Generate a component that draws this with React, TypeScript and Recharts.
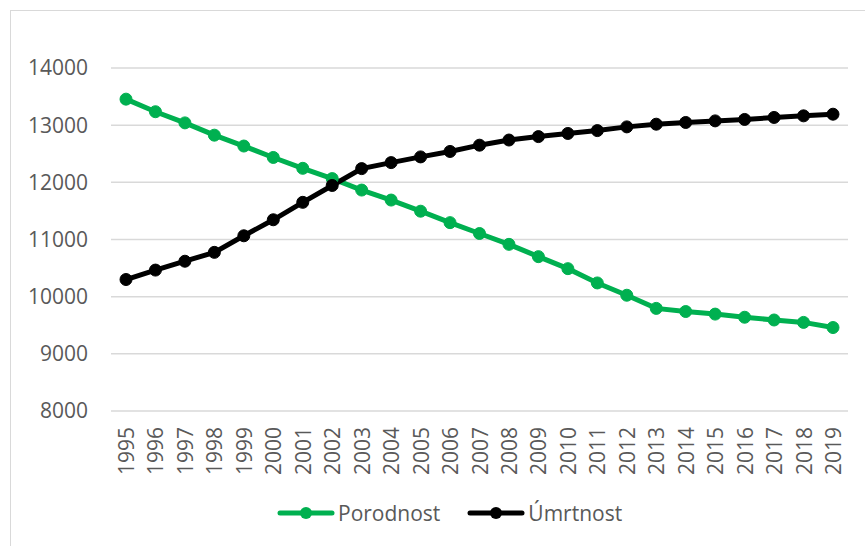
import { LineChart, Line, XAxis, YAxis, CartesianGrid } from "recharts";

const years = [
  "1995", "1996", "1997", "1998", "1999", "2000", "2001", "2002", "2003", "2004", "2005", "2006",
  "2007", "2008", "2009", "2010", "2011", "2012", "2013", "2014", "2015", "2016", "2017", "2018", "2019",
];
const porodnost = [
  13455, 13235, 13040, 12825, 12635, 12435, 12245, 12065, 11865, 11690, 11495, 11295,
  11105, 10915, 10700, 10490, 10240, 10025, 9795, 9740, 9695, 9640, 9592, 9550, 9460,
];
const umrtnost = [
  10300, 10465, 10620, 10775, 11065, 11345, 11650, 11945, 12240, 12345, 12445, 12540,
  12650, 12740, 12800, 12855, 12905, 12970, 13017, 13047, 13075, 13100, 13135, 13163, 13192,
];
const yTicks = [8000, 9000, 10000, 11000, 12000, 13000, 14000];
const seriesNames = ["Porodnost", "Úmrtnost"];

const GREEN = "#00B050";
const BLACK = "#000000";
const TEXT = "#595959";
const FONT = "'Open Sans', sans-serif";

const data = years.map((year, i) => ({ year, porodnost: porodnost[i], umrtnost: umrtnost[i] }));

function YearTick({ x, y, payload }: any) {
  return (
    <text
      x={x}
      y={y}
      transform={`rotate(-90 ${x} ${y})`}
      textAnchor="end"
      dominantBaseline="central"
      fill={TEXT}
      fontSize={21}
      fontFamily={FONT}
    >
      {payload.value}
    </text>
  );
}

function LegendItem({ color, label }: { color: string; label: string }) {
  return (
    <div style={{ display: "flex", alignItems: "center" }}>
      <svg width={58} height={16}>
        <line x1={3} y1={8} x2={55} y2={8} stroke={color} strokeWidth={5} strokeLinecap="round" />
        <circle cx={29} cy={8} r={6} fill={color} />
      </svg>
      <span style={{ marginLeft: 3, color: TEXT, fontSize: 21, fontFamily: FONT }}>{label}</span>
    </div>
  );
}

export default function App() {
  return (
    <div style={{ position: "fixed", left: 0, top: 0, width: 865, height: 546, overflow: "hidden", background: "#fff" }}>
      <div
        style={{
          position: "absolute",
          left: 10,
          top: 10,
          width: 880,
          height: 560,
          border: "1.5px solid #d9d9d9",
        }}
      />
      <div style={{ position: "absolute", left: 0, top: 0 }}>
        <LineChart width={865} height={546} data={data} margin={{ top: 68, right: 17, bottom: 0, left: 0 }}>
          <CartesianGrid vertical={false} stroke="#d9d9d9" strokeWidth={1.5} />
          <XAxis
            dataKey="year"
            axisLine={false}
            tickLine={false}
            height={135}
            tickMargin={10}
            interval={0}
            padding={{ left: 15, right: 15 }}
            tick={<YearTick />}
          />
          <YAxis
            domain={[8000, 14000]}
            ticks={yTicks}
            width={111}
            axisLine={false}
            tickLine={false}
            tickMargin={17}
            tick={{ fill: TEXT, fontSize: 21, fontFamily: FONT }}
          />
          <Line
            dataKey="porodnost"
            name={seriesNames[0]}
            stroke={GREEN}
            strokeWidth={5}
            dot={{ r: 6, fill: GREEN, stroke: GREEN, strokeWidth: 1 }}
            isAnimationActive={false}
          />
          <Line
            dataKey="umrtnost"
            name={seriesNames[1]}
            stroke={BLACK}
            strokeWidth={5}
            dot={{ r: 6, fill: BLACK, stroke: BLACK, strokeWidth: 1 }}
            isAnimationActive={false}
          />
        </LineChart>
      </div>
      <div style={{ position: "absolute", left: 277, top: 499, display: "flex", gap: 27 }}>
        <LegendItem color={GREEN} label={seriesNames[0]} />
        <LegendItem color={BLACK} label={seriesNames[1]} />
      </div>
    </div>
  );
}
